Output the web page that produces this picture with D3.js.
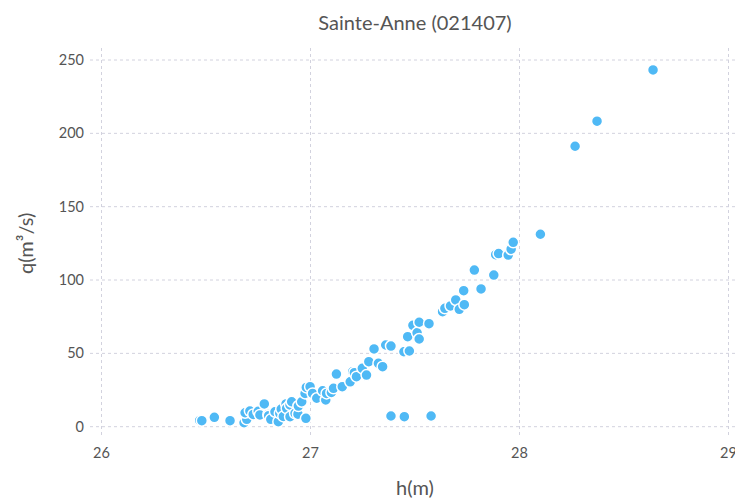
<!DOCTYPE html>
<html>
<head>
<meta charset="utf-8">
<script src="https://cdn.jsdelivr.net/npm/d3@7"></script>
<style>
  html, body { margin: 0; padding: 0; background: #fff; overflow: hidden; }
  svg { display: block; font-family: Lato, "Open Sans", sans-serif; }
</style>
</head>
<body>
<svg id="chart" width="735" height="500"></svg>
<script>
const title = "Sainte-Anne (021407)";
const xLabel = "h(m)";
const yLabel = "q(m³/s)";
const xTicks = [26, 27, 28, 29];
const yTicks = [0, 50, 100, 150, 200, 250];

// h (m)
const hValues = [
  26.47, 26.48, 26.54, 26.615, 26.682, 26.695, 26.687, 26.71, 26.726, 26.75,
  26.758, 26.779, 26.798, 26.80, 26.81, 26.83, 26.846, 26.853, 26.86, 26.87,
  26.883, 26.886, 26.902, 26.902, 26.91, 26.926, 26.94, 26.942, 26.958, 26.974,
  26.978, 26.98, 26.998, 27.01, 27.03, 27.058, 27.073, 27.077, 27.10, 27.11,
  27.124, 27.152, 27.19, 27.202, 27.21, 27.22, 27.248, 27.268, 27.279, 27.304,
  27.325, 27.345, 27.36, 27.385, 27.385, 27.447, 27.449, 27.465, 27.473, 27.49,
  27.51, 27.52, 27.52, 27.567, 27.577, 27.632, 27.643, 27.67, 27.695, 27.712,
  27.733, 27.736, 27.784, 27.816, 27.877, 27.886, 27.90, 27.946, 27.96, 27.97,
  28.10, 28.266, 28.371, 28.639
];
// q (m3/s)
const qValues = [
  4.3, 4.1, 6.4, 4.1, 2.7, 5.0, 9.5, 10.7, 8.4, 10.5,
  8.0, 15.5, 8.4, 7.5, 5.0, 10.2, 3.4, 9.1, 12.0, 7.0,
  15.5, 12.5, 6.8, 14.8, 17.0, 9.1, 8.5, 14.1, 17.0, 22.7,
  5.7, 26.8, 27.3, 22.7, 19.4, 24.5, 18.2, 22.7, 23.4, 26.2,
  35.9, 27.3, 30.6, 37.5, 36.8, 34.1, 39.8, 35.2, 44.3, 53.0,
  43.2, 40.9, 55.7, 55.0, 7.3, 51.1, 6.8, 61.4, 51.6, 69.1,
  64.0, 71.2, 59.8, 70.2, 7.3, 78.4, 80.7, 82.3, 86.4, 80.0,
  92.7, 83.2, 106.8, 93.9, 103.4, 117.3, 118.0, 117.0, 121.0, 125.7,
  131.2, 191.2, 208.3, 243.2
];

const points = hValues.map((h, i) => ({ h, q: qValues[i] }));

const svg = d3.select("#chart");
const x = d3.scaleLinear().domain([26, 29]).range([101.5, 728.5]);
const y = d3.scaleLinear().domain([0, 250]).range([426.7, 60]);

const gridColor = "#d2d2de";
const textColor = "#555555";

// vertical grid
svg.append("g").selectAll("line").data(xTicks).join("line")
  .attr("x1", d => x(d)).attr("x2", d => x(d))
  .attr("y1", 48).attr("y2", 435)
  .attr("stroke", gridColor).attr("stroke-width", 1)
  .attr("stroke-dasharray", "3,3");

// horizontal grid
svg.append("g").selectAll("line").data(yTicks).join("line")
  .attr("x1", 90).attr("x2", 745)
  .attr("y1", d => y(d)).attr("y2", d => y(d))
  .attr("stroke", gridColor).attr("stroke-width", 1)
  .attr("stroke-dasharray", "3,3");

// x tick labels
svg.append("g").selectAll("text").data(xTicks).join("text")
  .attr("x", d => x(d)).attr("y", 458)
  .attr("text-anchor", "middle")
  .attr("font-size", 14.5).attr("fill", textColor)
  .text(d => d);

// y tick labels
svg.append("g").selectAll("text").data(yTicks).join("text")
  .attr("x", 84).attr("y", d => y(d) + 5)
  .attr("text-anchor", "end")
  .attr("font-size", 14.5).attr("fill", textColor)
  .text(d => d);

// points
svg.append("g").selectAll("circle").data(points).join("circle")
  .attr("cx", d => x(d.h)).attr("cy", d => y(d.q))
  .attr("r", 5.5)
  .attr("fill", "#4fb9f5")
  .attr("stroke", "#ffffff").attr("stroke-width", 1.5);

// title
svg.append("text")
  .attr("x", (x(26) + x(29)) / 2).attr("y", 30)
  .attr("text-anchor", "middle")
  .attr("font-size", 20).attr("fill", textColor)
  .text(title);

// x label
svg.append("text")
  .attr("x", (x(26) + x(29)) / 2).attr("y", 495)
  .attr("text-anchor", "middle")
  .attr("font-size", 20).attr("fill", textColor)
  .text(xLabel);

// y label
svg.append("text")
  .attr("transform", `translate(33, ${(y(0) + y(250)) / 2}) rotate(-90)`)
  .attr("text-anchor", "middle")
  .attr("font-size", 20).attr("fill", textColor)
  .text(yLabel);
</script>
</body>
</html>
